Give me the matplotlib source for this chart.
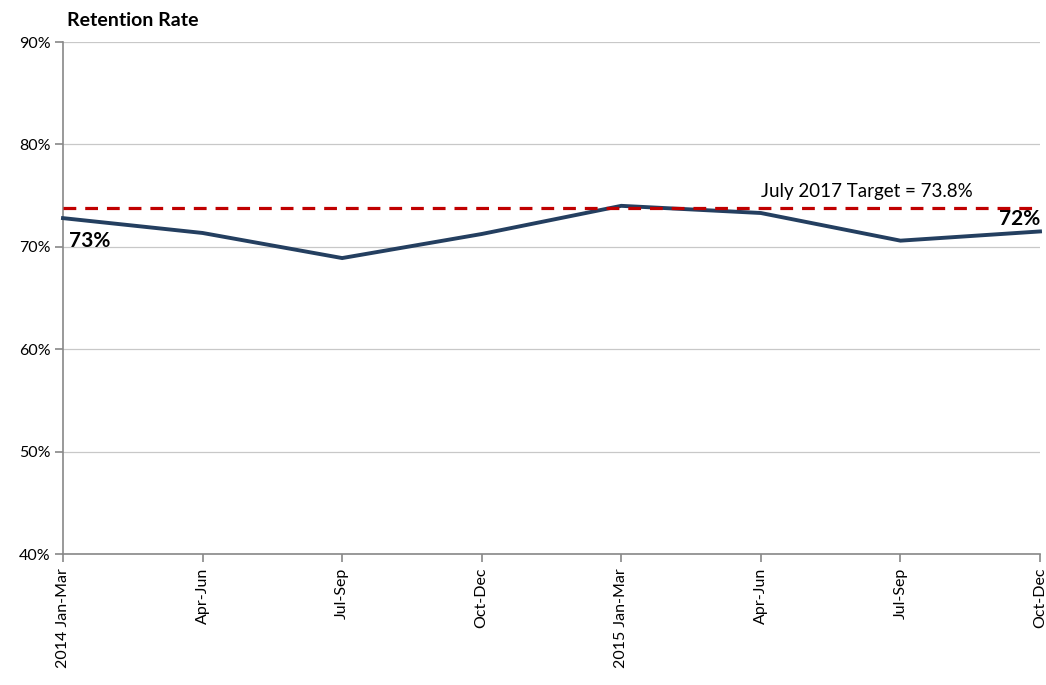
import matplotlib
matplotlib.use("Agg")
import matplotlib.pyplot as plt

categories = ["2014 Jan-Mar", "Apr-Jun", "Jul-Sep", "Oct-Dec",
              "2015 Jan-Mar", "Apr-Jun", "Jul-Sep", "Oct-Dec"]
retention = [72.8, 71.35, 68.9, 71.25, 74.0, 73.3, 70.6, 71.5]
target = 73.8
target_label = "July 2017 Target = 73.8%"
yticks = [40, 50, 60, 70, 80, 90]

plt.rcParams['font.family'] = ['Lato', 'DejaVu Sans']

fig = plt.figure(figsize=(10.46, 6.85), dpi=100)
W, H = 1046, 685
ax = fig.add_axes([63 / W, (H - 554) / H, (1040 - 63) / W, (554 - 42) / H])

x = list(range(len(categories)))
ax.plot(x, retention, color="#243F60", lw=2.8, solid_joinstyle="miter", zorder=3, clip_on=False)
ax.axhline(target, color="#C00000", lw=2.3, ls=(0, (4, 2.8)), zorder=4)

ax.set_xlim(0, len(categories) - 1)
ax.set_ylim(40, 90)
ax.set_yticks(yticks)
ax.set_yticklabels([f"{v}%" for v in yticks], fontsize=11.5)
ax.set_xticks(x)
ax.set_xticklabels(categories, rotation=90, fontsize=11.5, va="top", ha="center")

ax.grid(axis="y", color="#C8C8C8", lw=0.9)
ax.set_axisbelow(True)
for s in ["top", "right"]:
    ax.spines[s].set_visible(False)
for s in ["left", "bottom"]:
    ax.spines[s].set_color("#888888")
    ax.spines[s].set_linewidth(1.2)
ax.tick_params(axis="both", colors="#888888", length=6, width=1.2, labelcolor="black")
ax.tick_params(axis="x", pad=4)
ax.tick_params(axis="y", pad=3)

ax.annotate(f"{retention[0]:.0f}%", (x[0], retention[0]), xytext=(4, -9),
            textcoords="offset points", ha="left", va="top",
            fontsize=15, fontweight="bold", annotation_clip=False)
ax.annotate(f"{round(retention[-1])}%", (x[-1], retention[-1]), xytext=(0, 2),
            textcoords="offset points", ha="right", va="bottom",
            fontsize=15, fontweight="bold", annotation_clip=False)
ax.annotate(target_label, (5.76, target), xytext=(0, 6),
            textcoords="offset points", ha="center", va="bottom", fontsize=13.5)

fig.text(67 / W, 1 - 20 / H, "Retention Rate", fontsize=14, fontweight="bold",
         ha="left", va="center")

fig.savefig("out.png", dpi=100)
